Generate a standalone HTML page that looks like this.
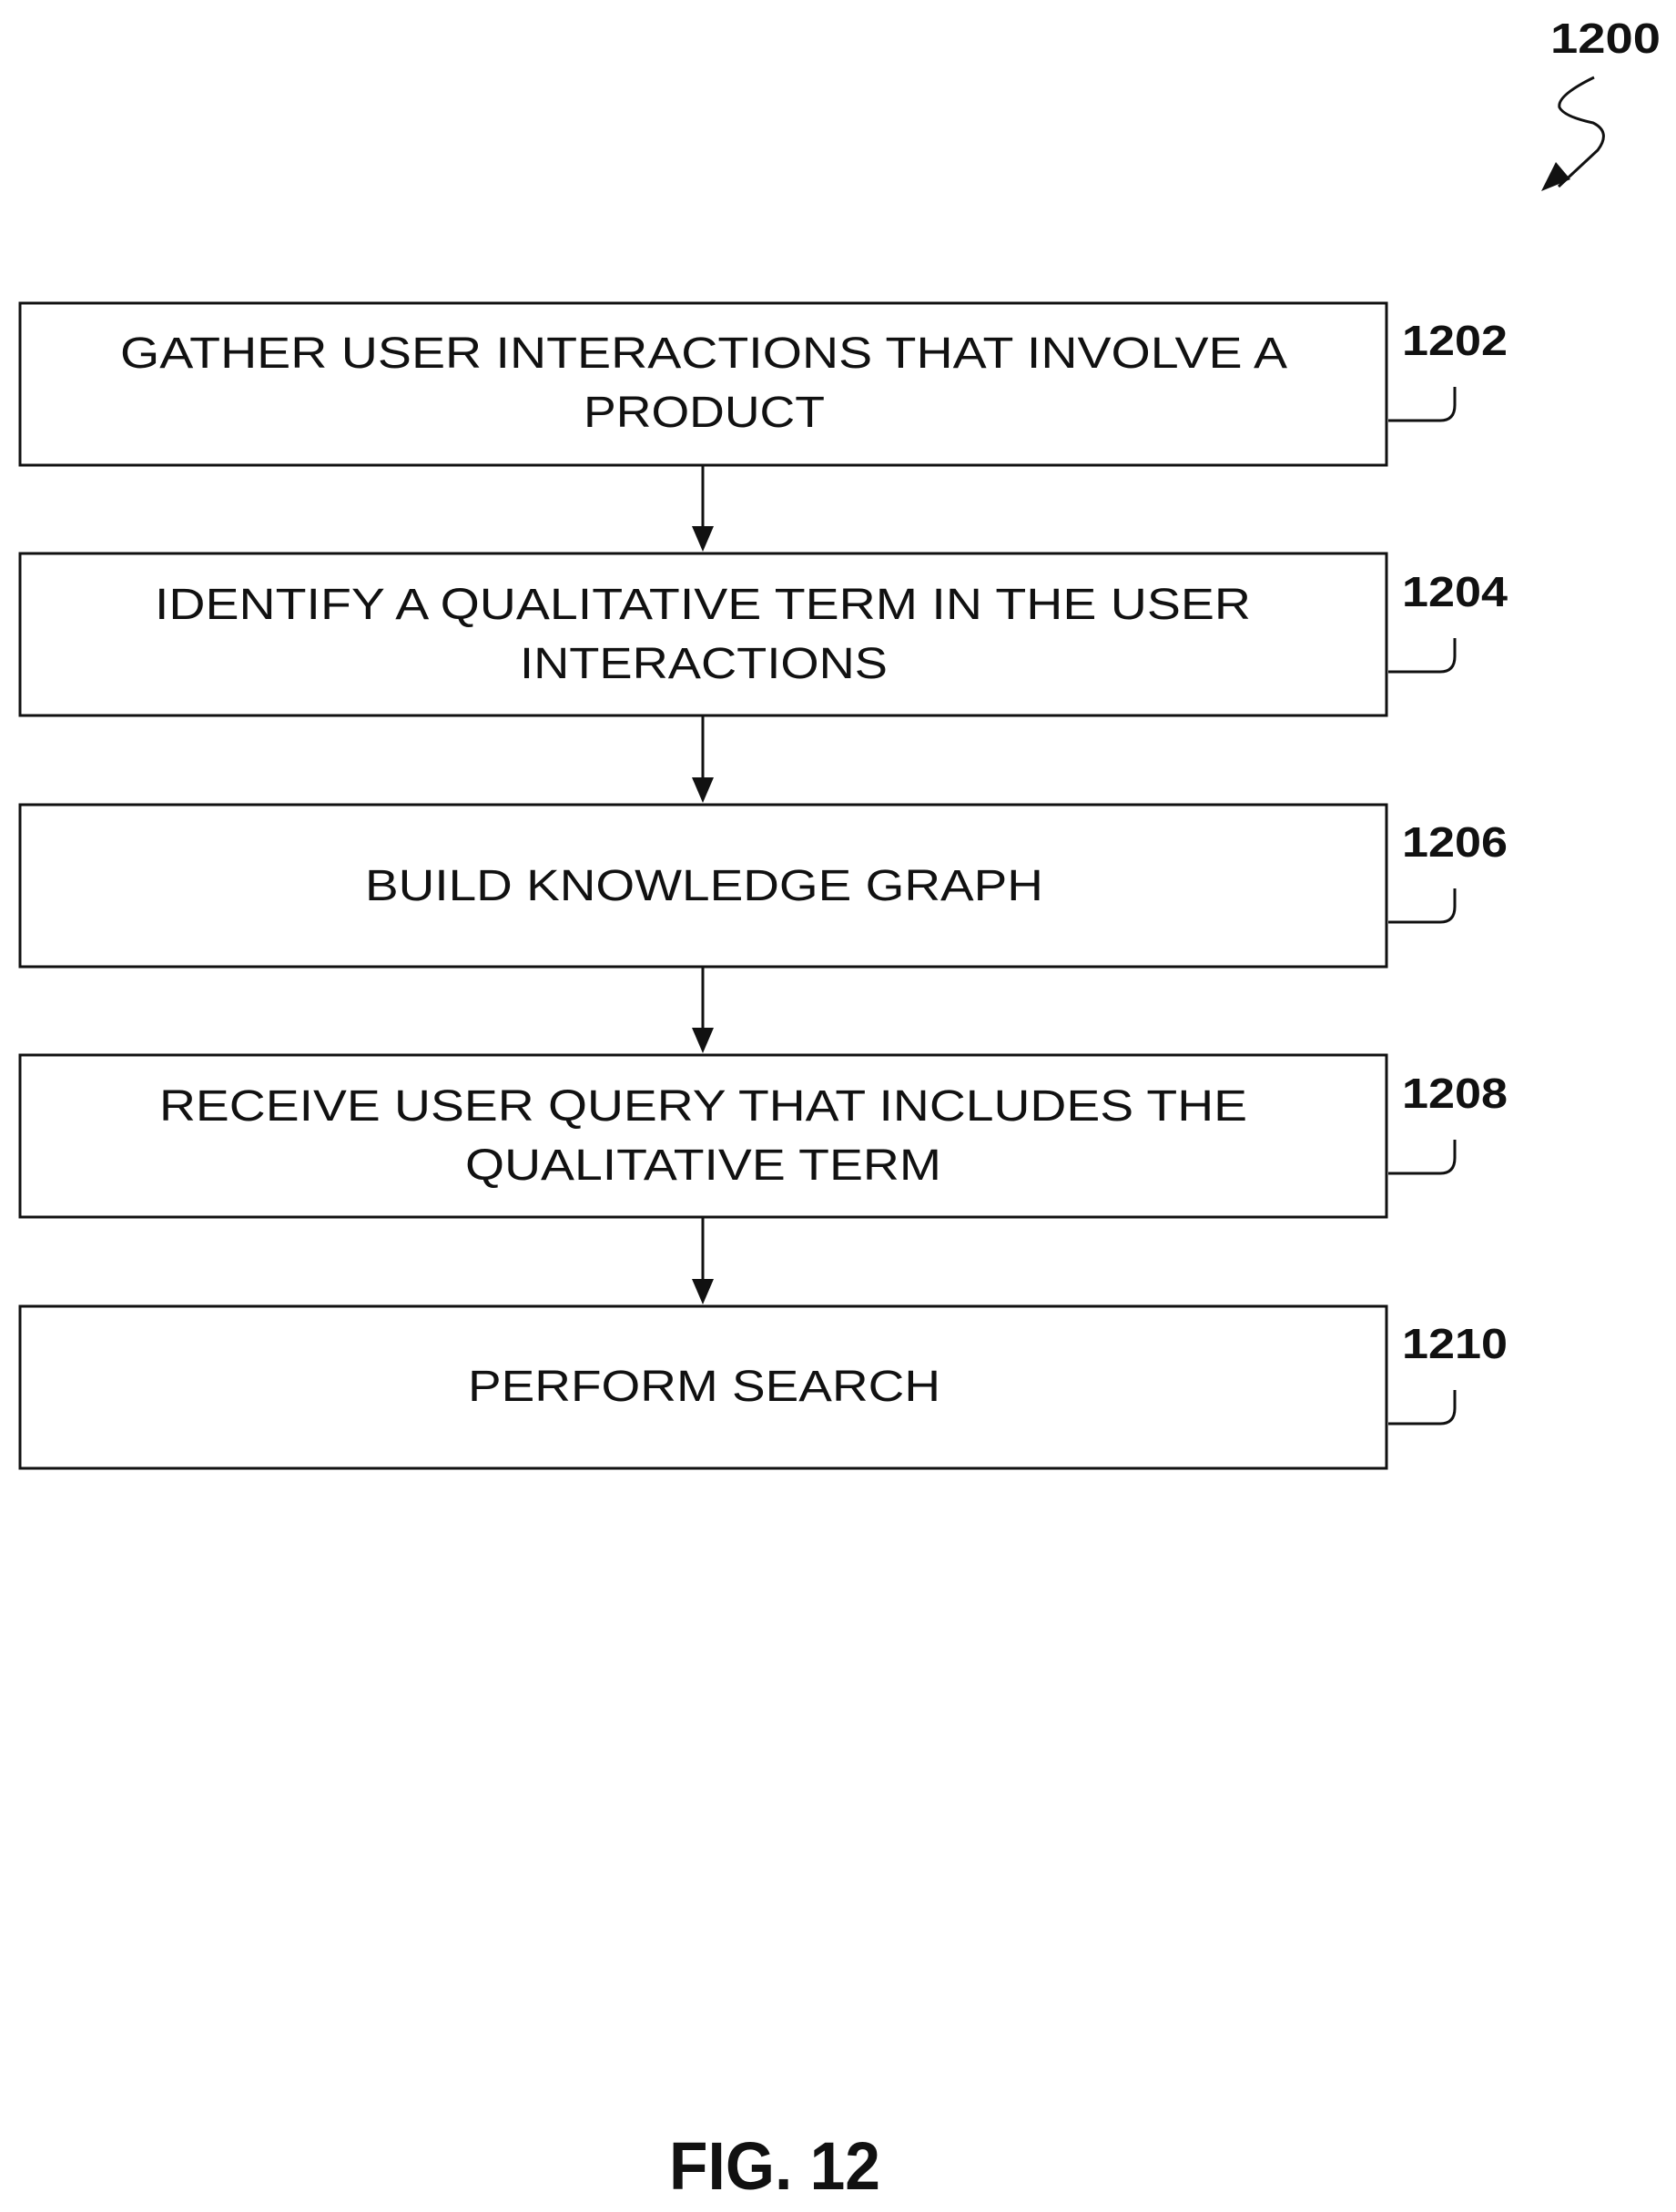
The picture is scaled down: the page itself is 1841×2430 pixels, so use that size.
<!DOCTYPE html>
<html><head><style>
body{margin:0;background:#fff;}
svg text{font-family:"Liberation Sans",sans-serif;fill:#111;}
</style></head><body>
<svg width="1841" height="2425" xmlns="http://www.w3.org/2000/svg">
<g fill="none" stroke="#111" stroke-width="3">
<rect x="22" y="333" width="1501" height="178"/>
<rect x="22" y="608" width="1501" height="178"/>
<rect x="22" y="884" width="1501" height="178"/>
<rect x="22" y="1159" width="1501" height="178"/>
<rect x="22" y="1435" width="1501" height="178"/>
<path d="M1525,462 L1582,462 Q1598,462 1598,445 L1598,425"/>
<path d="M1525,738 L1582,738 Q1598,738 1598,721 L1598,701"/>
<path d="M1525,1013 L1582,1013 Q1598,1013 1598,996 L1598,976"/>
<path d="M1525,1289 L1582,1289 Q1598,1289 1598,1272 L1598,1252"/>
<path d="M1525,1564 L1582,1564 Q1598,1564 1598,1547 L1598,1527"/>
<path d="M1751,85 Q1710,105 1713,118 Q1718,128 1750,135 Q1770,145 1755,165 L1712,205"/>
</g>
<polygon points="1693,210 1709,178 1725,197" fill="#111"/>
<g fill="#111">
<line x1="772" y1="511" x2="772" y2="583" stroke="#111" stroke-width="3"/><polygon points="760,578 784,578 772,606"/>
<line x1="772" y1="786" x2="772" y2="859" stroke="#111" stroke-width="3"/><polygon points="760,854 784,854 772,882"/>
<line x1="772" y1="1062" x2="772" y2="1134" stroke="#111" stroke-width="3"/><polygon points="760,1129 784,1129 772,1157"/>
<line x1="772" y1="1337" x2="772" y2="1410" stroke="#111" stroke-width="3"/><polygon points="760,1405 784,1405 772,1433"/>
</g>
<g font-size="48">
<text x="132" y="404" textLength="1282" lengthAdjust="spacingAndGlyphs">GATHER USER INTERACTIONS THAT INVOLVE A</text>
<text x="641" y="469" textLength="265" lengthAdjust="spacingAndGlyphs">PRODUCT</text>
<text x="170" y="680" textLength="1204" lengthAdjust="spacingAndGlyphs">IDENTIFY A QUALITATIVE TERM IN THE USER</text>
<text x="571" y="745" textLength="404" lengthAdjust="spacingAndGlyphs">INTERACTIONS</text>
<text x="401" y="989" textLength="745" lengthAdjust="spacingAndGlyphs">BUILD KNOWLEDGE GRAPH</text>
<text x="175" y="1231" textLength="1195" lengthAdjust="spacingAndGlyphs">RECEIVE USER QUERY THAT INCLUDES THE</text>
<text x="511" y="1296" textLength="523" lengthAdjust="spacingAndGlyphs">QUALITATIVE TERM</text>
<text x="514" y="1539" textLength="519" lengthAdjust="spacingAndGlyphs">PERFORM SEARCH</text>
</g>
<g font-size="46" font-weight="bold">
<text x="1540" y="390" textLength="116" lengthAdjust="spacingAndGlyphs">1202</text>
<text x="1540" y="666" textLength="116" lengthAdjust="spacingAndGlyphs">1204</text>
<text x="1540" y="941" textLength="116" lengthAdjust="spacingAndGlyphs">1206</text>
<text x="1540" y="1217" textLength="116" lengthAdjust="spacingAndGlyphs">1208</text>
<text x="1540" y="1492" textLength="116" lengthAdjust="spacingAndGlyphs">1210</text>
<text x="1703" y="58" textLength="121" lengthAdjust="spacingAndGlyphs">1200</text>
</g>
<text x="735" y="2405" font-size="74" font-weight="bold" textLength="232" lengthAdjust="spacingAndGlyphs">FIG. 12</text>
</svg>
</body></html>
